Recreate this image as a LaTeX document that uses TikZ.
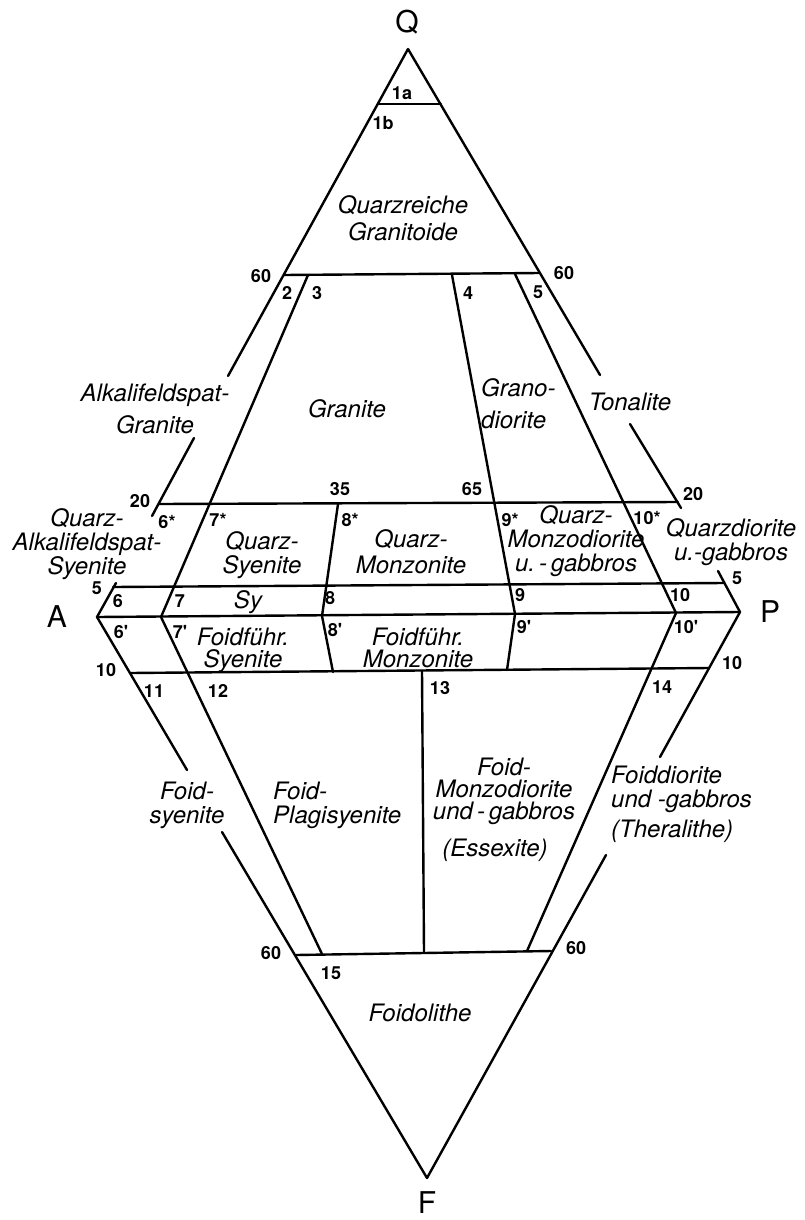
\documentclass[tikz,border=0pt]{standalone}
\usepackage{fontspec}
\setmainfont{TeX Gyre Heros}

\begin{document}
\begin{tikzpicture}[
        x=1pt, y=-1pt,
        border/.style={line width=2.4pt, line cap=round, line join=round},
        rock/.style={font=\fontsize{24}{27}\selectfont\itshape, align=center, inner sep=0pt},
        field/.style={font=\fontsize{18}{20}\selectfont\bfseries, inner sep=0pt},
        corner/.style={font=\fontsize{30}{34}\selectfont, inner sep=0pt}
    ]
    \useasboundingbox (0,0) rectangle (805,1220);

    % corners of the double triangle
    \coordinate (Q) at (408,49);
    \coordinate (A) at (97,617);
    \coordinate (P) at (740,612);
    \coordinate (F) at (427,1178);

    % ends of the cross lines
    \coordinate (q90l) at (378,104);  \coordinate (q90r) at (441,104);
    \coordinate (q60l) at (284,275);  \coordinate (q60r) at (540,273);
    \coordinate (q20l) at (159,504);  \coordinate (q20r) at (678,502);
    \coordinate (q5l)  at (113,587);  \coordinate (q5r)  at (724,583);
    \coordinate (f10l) at (130,673);  \coordinate (f10r) at (709,668);
    \coordinate (f60l) at (296,955);  \coordinate (f60r) at (551,951);

    % breaks in the outline for the labels
    \coordinate (ga1) at (228,376);   \coordinate (ga2) at (194,438);
    \coordinate (ga3) at (152,516);   \coordinate (ga4) at (116,583);
    \coordinate (gp1) at (600,375);   \coordinate (gp2) at (630,424);
    \coordinate (gp3) at (681,508);   \coordinate (gp4) at (718,571);
    \coordinate (gf1) at (660,757);   \coordinate (gf2) at (606,855);
    \coordinate (gaf1) at (187,770);  \coordinate (gaf2) at (222,832);

    % inner division lines
    \coordinate (d3t)  at (308,275);  \coordinate (ap7)  at (161,617);
    \coordinate (d12b) at (322,954);
    \coordinate (d8t)  at (338,504);  \coordinate (ap8)  at (322,616);
    \coordinate (d8b)  at (333,672);
    \coordinate (d4t)  at (452,275);  \coordinate (ap9)  at (515,614);
    \coordinate (d9b)  at (507,670);
    \coordinate (d5t)  at (515,274);  \coordinate (ap10) at (676,613);
    \coordinate (d14b) at (527,951);
    \coordinate (d13t) at (422,671);  \coordinate (d13b) at (424,952);

    % outline
    \draw[border] (Q) -- (ga1) (ga2) -- (ga3) (ga4) -- (A) -- (gaf1)
        (gaf2) -- (F) -- (gf2) (gf1) -- (P) -- (gp4) (gp3) -- (gp2) (gp1) -- (Q);

    % cross lines
    \draw[border] (q90l) -- (q90r);
    \draw[border] (q60l) -- (q60r);
    \draw[border] (q20l) -- (q20r);
    \draw[border] (q5l) -- (q5r);
    \draw[border] (A) -- (P);
    \draw[border] (f10l) -- (f10r);
    \draw[border] (f60l) -- (f60r);

    % fields
    \draw[border] (d3t) -- (ap7) -- (d12b);
    \draw[border] (d8t) -- (ap8) -- (d8b);
    \draw[border] (d4t) -- (ap9) -- (d9b);
    \draw[border] (d5t) -- (ap10) -- (d14b);
    \draw[border] (d13t) -- (d13b);

    % corner letters
    \node[corner] (lq) at (407,22) {Q};
    \node[corner] (la) at (57,617) {A};
    \node[corner] (lp) at (770,612) {P};
    \node[corner] (lf) at (427,1203) {F};

    % field numbers and scale values
    \node[field] (n1a) at (402,93) {1a};
    \node[field] (n1b) at (383,123) {1b};
    \node[field] (n60ql) at (261,276) {60};
    \node[field] (n60qr) at (564,273) {60};
    \node[field] (n2) at (287,293) {2};
    \node[field] (n3) at (317,293) {3};
    \node[field] (n4) at (468,293) {4};
    \node[field] (n5) at (538,292) {5};
    \node[field] (n20l) at (140,501) {20};
    \node[field] (n35) at (340,489) {35};
    \node[field] (n65) at (472,489) {65};
    \node[field] (n20r) at (693,494) {20};
    \node[field] (n6s) at (167,522) {6*};
    \node[field] (n7s) at (218,520) {7*};
    \node[field] (n8s) at (350,520) {8*};
    \node[field] (n9s) at (510,520) {9*};
    \node[field] (n10s) at (647,518) {10*};
    \node[field] (n5l) at (97,588) {5};
    \node[field] (n5r) at (737,578) {5};
    \node[field] (n6) at (118,601) {6};
    \node[field] (n7) at (180,601) {7};
    \node[field] (n8) at (330,598) {8};
    \node[field] (n9) at (520,595) {9};
    \node[field] (n10) at (680,595) {10};
    \node[field] (n6p) at (121,632) {6\textquotesingle};
    \node[field] (n7p) at (180,632) {7\textquotesingle};
    \node[field] (n8p) at (335,630) {8\textquotesingle};
    \node[field] (n9p) at (524,627) {9\textquotesingle};
    \node[field] (n10p) at (686,627) {10\textquotesingle};
    \node[field] (n10l) at (106,670) {10};
    \node[field] (n10r) at (732,663) {10};
    \node[field] (n11) at (154,691) {11};
    \node[field] (n12) at (218,691) {12};
    \node[field] (n13) at (440,688) {13};
    \node[field] (n14) at (662,687) {14};
    \node[field] (n60fl) at (271,953) {60};
    \node[field] (n60fr) at (576,948) {60};
    \node[field] (n15) at (331,973) {15};

    % rock names
    \node[rock] (quarzreich) at (403,218) {Quarzreiche\\Granitoide};
    \node[rock, font=\fontsize{24}{32}\selectfont\itshape] (alkgranit) at (155,409) {Alkalifeldspat-\\Granite};
    \node[rock] (granit) at (347,409) {Granite};
    \node[rock, align=left, anchor=west, font=\fontsize{24}{32}\selectfont\itshape] (granodiorit) at (481,404) {Grano-\\diorite};
    \node[rock] (tonalit) at (630,402) {Tonalite};
    \node[rock, font=\fontsize{24}{24}\selectfont\itshape] (qalksyenit) at (87,544) {Quarz-\\Alkalifeldspat-\\Syenite};
    \node[rock, font=\fontsize{24}{24}\selectfont\itshape] (qsyenit) at (262,555) {Quarz-\\Syenite};
    \node[rock, font=\fontsize{24}{26}\selectfont\itshape] (qmonzonit) at (411,552) {Quarz-\\Monzonite};
    \node[rock, font=\fontsize{24}{24}\selectfont\itshape] (qmonzodiorit) at (576,541) {Quarz-\\Monzodiorite\\u.\,-\,gabbros};
    \node[rock, font=\fontsize{24}{24}\selectfont\itshape] (qdiorit) at (731,542) {Quarzdiorite\\u.-gabbros};
    \node[rock] (sy) at (248,602) {Sy};
    \node[rock, font=\fontsize{24}{22}\selectfont\itshape] (ffsyenit) at (243,650) {Foidführ.\\Syenite};
    \node[rock, font=\fontsize{24}{22}\selectfont\itshape] (ffmonzonit) at (418,648) {Foidführ.\\Monzonite};
    \node[rock, font=\fontsize{24}{24}\selectfont\itshape] (foidsyenit) at (187,805) {Foid-\\syenite};
    \node[rock, align=left, anchor=west, font=\fontsize{24}{24}\selectfont\itshape] (plagisyenit) at (273,805) {Foid-\\Plagisyenite};
    \node[rock, font=\fontsize{24}{22}\selectfont\itshape] (foidmonzodiorit) at (504,791) {Foid-\\Monzodiorite\\und\,-\,gabbros};
    \node[rock] (essexit) at (495,850) {(Essexite)};
    \node[rock, align=left, anchor=west, font=\fontsize{24}{24}\selectfont\itshape] (foiddiorit) at (611,804) {Foiddiorite\\und -gabbros\\[6pt](Theralithe)};
    \node[rock] (foidolith) at (420,1013) {Foidolithe};
\end{tikzpicture}
\end{document}
